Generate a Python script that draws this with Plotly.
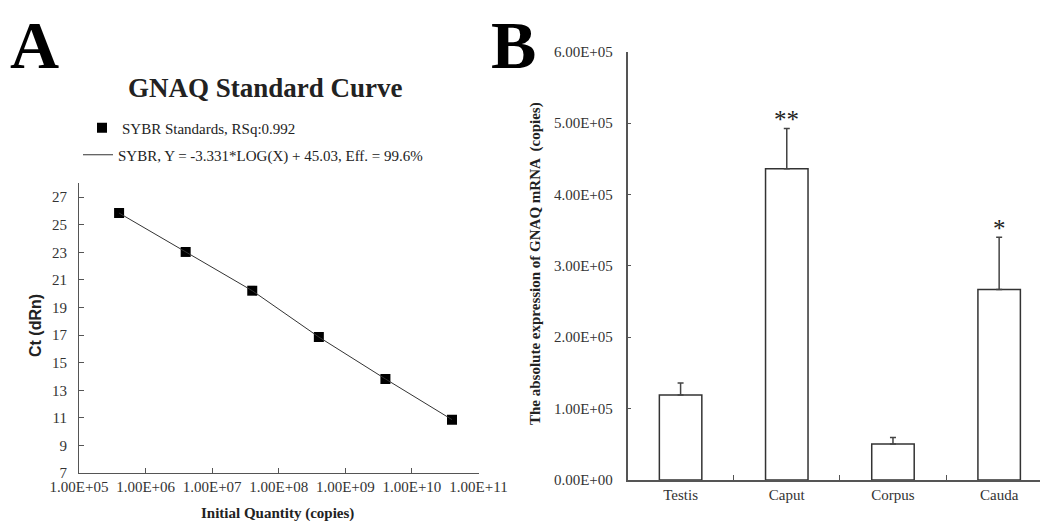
import plotly.graph_objects as go

# ---------------- data ----------------
# Panel A: standard curve
quantities = [4e5, 4e6, 4e7, 4e8, 4e9, 4e10]
ct_values = [25.85, 23.03, 20.22, 16.86, 13.82, 10.87]
x_tickvals = [1e5, 1e6, 1e7, 1e8, 1e9, 1e10, 1e11]
x_ticktext = ["1.00E+05", "1.00E+06", "1.00E+07", "1.00E+08", "1.00E+09", "1.00E+10", "1.00E+11"]
y_tickvals_a = [7, 9, 11, 13, 15, 17, 19, 21, 23, 25, 27]

# Panel B: absolute expression
tissues = ["Testis", "Caput", "Corpus", "Cauda"]
expression = [1.19e5, 4.36e5, 0.505e5, 2.67e5]
expression_err = [0.17e5, 0.565e5, 0.09e5, 0.73e5]
significance = ["", "**", "", "*"]
y_tickvals_b = [0, 1e5, 2e5, 3e5, 4e5, 5e5, 6e5]
y_ticktext_b = ["0.00E+00", "1.00E+05", "2.00E+05", "3.00E+05", "4.00E+05", "5.00E+05", "6.00E+05"]

# The page body has an 8px default margin, so the figure is drawn 8px smaller
# and page-pixel positions are converted to paper coordinates with that offset.
OFF = 8
W, H = 1048 - OFF, 521 - OFF


def px(x):
    return (x - OFF) / W


def py(y):
    return 1 - (y - OFF) / H


SERIF = "Liberation Serif, Times New Roman, serif"
SANS = "Liberation Sans, Arial, sans-serif"
AXC = "#555555"
TXT = "#222222"

fig = go.Figure()

# Panel A traces
fig.add_trace(go.Scatter(
    x=quantities, y=ct_values, mode="markers",
    marker=dict(symbol="square", size=10, color="black"),
    name="SYBR Standards, RSq:0.992",
    xaxis="x", yaxis="y", legend="legend", showlegend=True,
))
fig.add_trace(go.Scatter(
    x=quantities, y=ct_values, mode="lines",
    line=dict(color="#333333", width=1),
    name="SYBR, Y = -3.331*LOG(X) + 45.03, Eff. = 99.6%",
    xaxis="x", yaxis="y", legend="legend2", showlegend=True,
))

# Panel B bars
fig.add_trace(go.Bar(
    x=tissues, y=expression, width=0.4,
    marker=dict(color="white", line=dict(color="#333333", width=1.5)),
    error_y=dict(type="data", array=expression_err, arrayminus=[0] * len(tissues),
                 symmetric=False, color="#444444", thickness=1.5, width=3),
    xaxis="x2", yaxis="y2", showlegend=False,
))

ann = []
for t, v, e, s in zip(tissues, expression, expression_err, significance):
    if s:
        ann.append(dict(x=t, y=v + e, xref="x2", yref="y2", text=s, showarrow=False,
                        yanchor="bottom", yshift=-7,
                        font=dict(family=SERIF, size=25, color=TXT)))

ann += [
    dict(x=px(8), y=py(45), xref="paper", yref="paper", text="<b>A</b>",
         showarrow=False, xanchor="left", yanchor="middle",
         font=dict(family=SERIF, size=68, color="black")),
    dict(x=px(489), y=py(45), xref="paper", yref="paper", text="<b>B</b>",
         showarrow=False, xanchor="left", yanchor="middle",
         font=dict(family=SERIF, size=68, color="black")),
    dict(x=px(265), y=py(88), xref="paper", yref="paper", text="<b>GNAQ Standard Curve</b>",
         showarrow=False, xanchor="center", yanchor="middle",
         font=dict(family=SERIF, size=27, color=TXT)),
    dict(x=px(35), y=py(326), xref="paper", yref="paper", text="<b>Ct (dRn)</b>",
         showarrow=False, textangle=-90, xanchor="center", yanchor="middle",
         font=dict(family=SANS, size=16, color=TXT)),
    dict(x=px(277), y=py(513), xref="paper", yref="paper", text="<b>Initial Quantity (copies)</b>",
         showarrow=False, xanchor="center", yanchor="middle",
         font=dict(family=SERIF, size=15, color=TXT)),
    dict(x=px(535), y=py(264), xref="paper", yref="paper",
         text="<b>The absolute expression of GNAQ mRNA  (copies)</b>",
         showarrow=False, textangle=-90, xanchor="center", yanchor="middle",
         font=dict(family=SERIF, size=15, color=TXT)),
]

tickfont = dict(family=SERIF, size=15, color="#333333")

fig.update_layout(
    width=W, height=H, autosize=False,
    margin=dict(l=0, r=0, t=0, b=0, pad=0),
    paper_bgcolor="white", plot_bgcolor="white",
    annotations=ann,
    xaxis=dict(domain=[px(79), px(478.5)], anchor="y", type="log", range=[5, 11],
               tickvals=x_tickvals, ticktext=x_ticktext, ticks="inside", ticklen=5,
               tickcolor=AXC, showline=True, linecolor=AXC, linewidth=1.2,
               showgrid=False, zeroline=False, tickfont=tickfont, automargin=False),
    yaxis=dict(domain=[py(473), py(183.4)], anchor="x", range=[7, 28],
               tickvals=y_tickvals_a, ticks="inside", ticklen=5, tickcolor=AXC,
               showline=True, linecolor=AXC, linewidth=1.2, showgrid=False,
               zeroline=False, tickfont=tickfont, ticklabelstandoff=8, automargin=False),
    xaxis2=dict(domain=[px(627.5), 1.0], anchor="y2", range=[-0.5, 3.46],
                type="category", tickson="boundaries", ticks="inside", ticklen=5,
                tickcolor=AXC, showline=True, linecolor=AXC, linewidth=1.5,
                showgrid=False, zeroline=False, tickfont=tickfont, automargin=False),
    yaxis2=dict(domain=[py(480), py(51.7)], anchor="x2", range=[0, 6e5],
                tickvals=y_tickvals_b, ticktext=y_ticktext_b, ticks="inside", ticklen=4,
                tickcolor=AXC, showline=True, linecolor=AXC, linewidth=1.5,
                showgrid=False, zeroline=False, tickfont=tickfont, ticklabelstandoff=10,
                automargin=False),
    legend=dict(x=px(82), y=py(128), xanchor="left", yanchor="middle",
                bgcolor="rgba(0,0,0,0)", font=dict(family=SERIF, size=15, color=TXT)),
    legend2=dict(x=px(78), y=py(155), xanchor="left", yanchor="middle",
                 bgcolor="rgba(0,0,0,0)", font=dict(family=SERIF, size=15, color=TXT)),
    bargap=0.6,
)

fig.write_html("out.html")
